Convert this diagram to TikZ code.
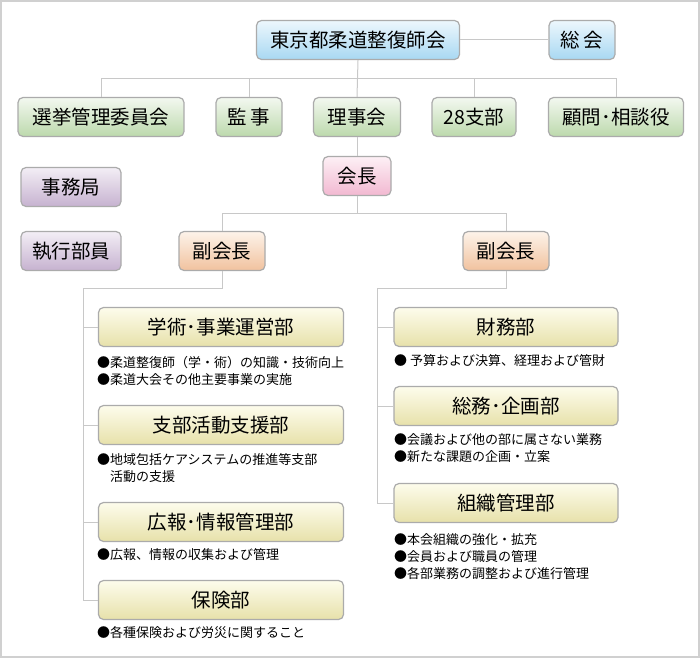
\documentclass[tikz,border=0pt]{standalone}
\usepackage{fontspec}
\setmainfont{Noto Sans CJK JP}
\usepackage{tikz}
\usetikzlibrary{positioning}

\definecolor{frameg}{HTML}{D0D0D0}
\definecolor{lineg}{HTML}{C8C8C8}
\definecolor{boxg}{HTML}{ABABAB}
\definecolor{bluet}{HTML}{EDF7FD}
\definecolor{blueb}{HTML}{A8D8F2}
\definecolor{greent}{HTML}{F3F8F0}
\definecolor{greenb}{HTML}{BCD9AC}
\definecolor{pinkt}{HTML}{FDF0F5}
\definecolor{pinkb}{HTML}{F2B8D1}
\definecolor{oranget}{HTML}{FDF3EA}
\definecolor{orangeb}{HTML}{F1C29E}
\definecolor{purplet}{HTML}{F3EEF5}
\definecolor{purpleb}{HTML}{C6B2D0}
\definecolor{yellowt}{HTML}{FDFCEC}
\definecolor{yellowb}{HTML}{E7E1AA}

\begin{document}
\begin{tikzpicture}[
    x=1pt, y=-1pt,
    box/.style={draw=boxg, line width=1.2pt, rounded corners=5pt, minimum height=39pt,
        inner sep=0pt, font=\fontsize{19.5}{22}\selectfont},
    bluebox/.style={box, top color=bluet, bottom color=blueb},
    greenbox/.style={box, top color=greent, bottom color=greenb},
    pinkbox/.style={box, top color=pinkt, bottom color=pinkb},
    orangebox/.style={box, top color=oranget, bottom color=orangeb},
    purplebox/.style={box, top color=purplet, bottom color=purpleb},
    dept/.style={box, top color=yellowt, bottom color=yellowb},
    duty/.style={anchor=north west, inner sep=0pt, align=left,
        font=\fontsize{13}{17}\selectfont},
    link/.style={draw=lineg, line width=1pt}
]
    \useasboundingbox (0,0) rectangle (700,658);
    \draw[frameg, line width=2pt] (1,1) rectangle (699,657);

    % Top
    \node[bluebox, minimum width=203pt] (hq) at (358,40) {東京都柔道整復師会};
    \node[bluebox, minimum width=66pt] (gm) at (582,40) {総\,会};

    % Second row
    \node[greenbox, minimum width=166pt] (sen) at (101,117) {選挙管理委員会};
    \node[greenbox, minimum width=66pt] (kan) at (249,117) {監\,事};
    \node[greenbox, minimum width=87pt] (rij) at (357,117) {理事会};
    \node[greenbox, minimum width=84pt] (b28) at (474,117) {28支部};
    \node[greenbox, minimum width=135pt] (kom) at (616,117) {顧問･相談役};

    % President and vice presidents
    \node[pinkbox, minimum width=68pt] (pres) at (357,176) {会長};
    \node[purplebox, minimum width=100pt] (jim) at (71,187) {事務局};
    \node[purplebox, minimum width=100pt] (shk) at (71,251) {執行部員};
    \node[orangebox, minimum width=86pt] (vp1) at (222,251) {副会長};
    \node[orangebox, minimum width=86pt] (vp2) at (506,251) {副会長};

    % Departments, left
    \node[dept, minimum width=245pt] (gak) at (221,327) {学術･事業運営部};
    \node[dept, minimum width=245pt] (shi) at (221,425) {支部活動支援部};
    \node[dept, minimum width=245pt] (koh) at (221,522) {広報･情報管理部};
    \node[dept, minimum width=245pt] (hok) at (221,600) {保険部};

    \node[duty] (gakd) at (97,356) {●柔道整復師（学・術）の知識・技術向上\\●柔道大会その他主要事業の実施};
    \node[duty] (shid) at (97,453) {●地域包括ケアシステムの推進等支部\\\phantom{●}活動の支援};
    \node[duty] (kohd) at (97,548) {●広報、情報の収集および管理};
    \node[duty] (hokd) at (97,626) {●各種保険および労災に関すること};

    % Departments, right
    \node[dept, minimum width=224pt] (zai) at (506,327) {財務部};
    \node[dept, minimum width=224pt] (som) at (506,406) {総務･企画部};
    \node[dept, minimum width=224pt] (sos) at (506,503) {組織管理部};

    \node[duty] (zaid) at (394,354) {● 予算および決算、経理および管財};
    \node[duty] (somd) at (394,433) {●会議および他の部に属さない業務\\●新たな課題の企画・立案};
    \node[duty] (sosd) at (394,533) {●本会組織の強化・拡充\\●会員および職員の管理\\●各部業務の調整および進行管理};

    % Connectors
    \coordinate (bus1) at (0,79);
    \coordinate (bus2) at (0,213);
    \coordinate (lbus) at (83,288);
    \coordinate (rbus) at (377,288);

    \draw[link] (hq.east) -- (gm.west);
    \draw[link] (hq.south) -- (rij.north);
    \draw[link] (sen.north) -- (sen.north |- bus1) -| (kom.north);
    \draw[link] (kan.north) -- (kan.north |- bus1);
    \draw[link] (b28.north) -- (b28.north |- bus1);
    \draw[link] (rij.south) -- (pres.north);
    \draw[link] (pres.south) -- (pres.south |- bus2);
    \draw[link] (vp1.north) -- (vp1.north |- bus2) -| (vp2.north);

    \draw[link] (vp1.south) |- (lbus) -- (lbus |- hok.west) -- (hok.west);
    \foreach \d in {gak, shi, koh}
        \draw[link] (lbus |- \d.west) -- (\d.west);

    \draw[link] (vp2.south) |- (rbus) -- (rbus |- sos.west) -- (sos.west);
    \foreach \d in {zai, som}
        \draw[link] (rbus |- \d.west) -- (\d.west);
\end{tikzpicture}
\end{document}
